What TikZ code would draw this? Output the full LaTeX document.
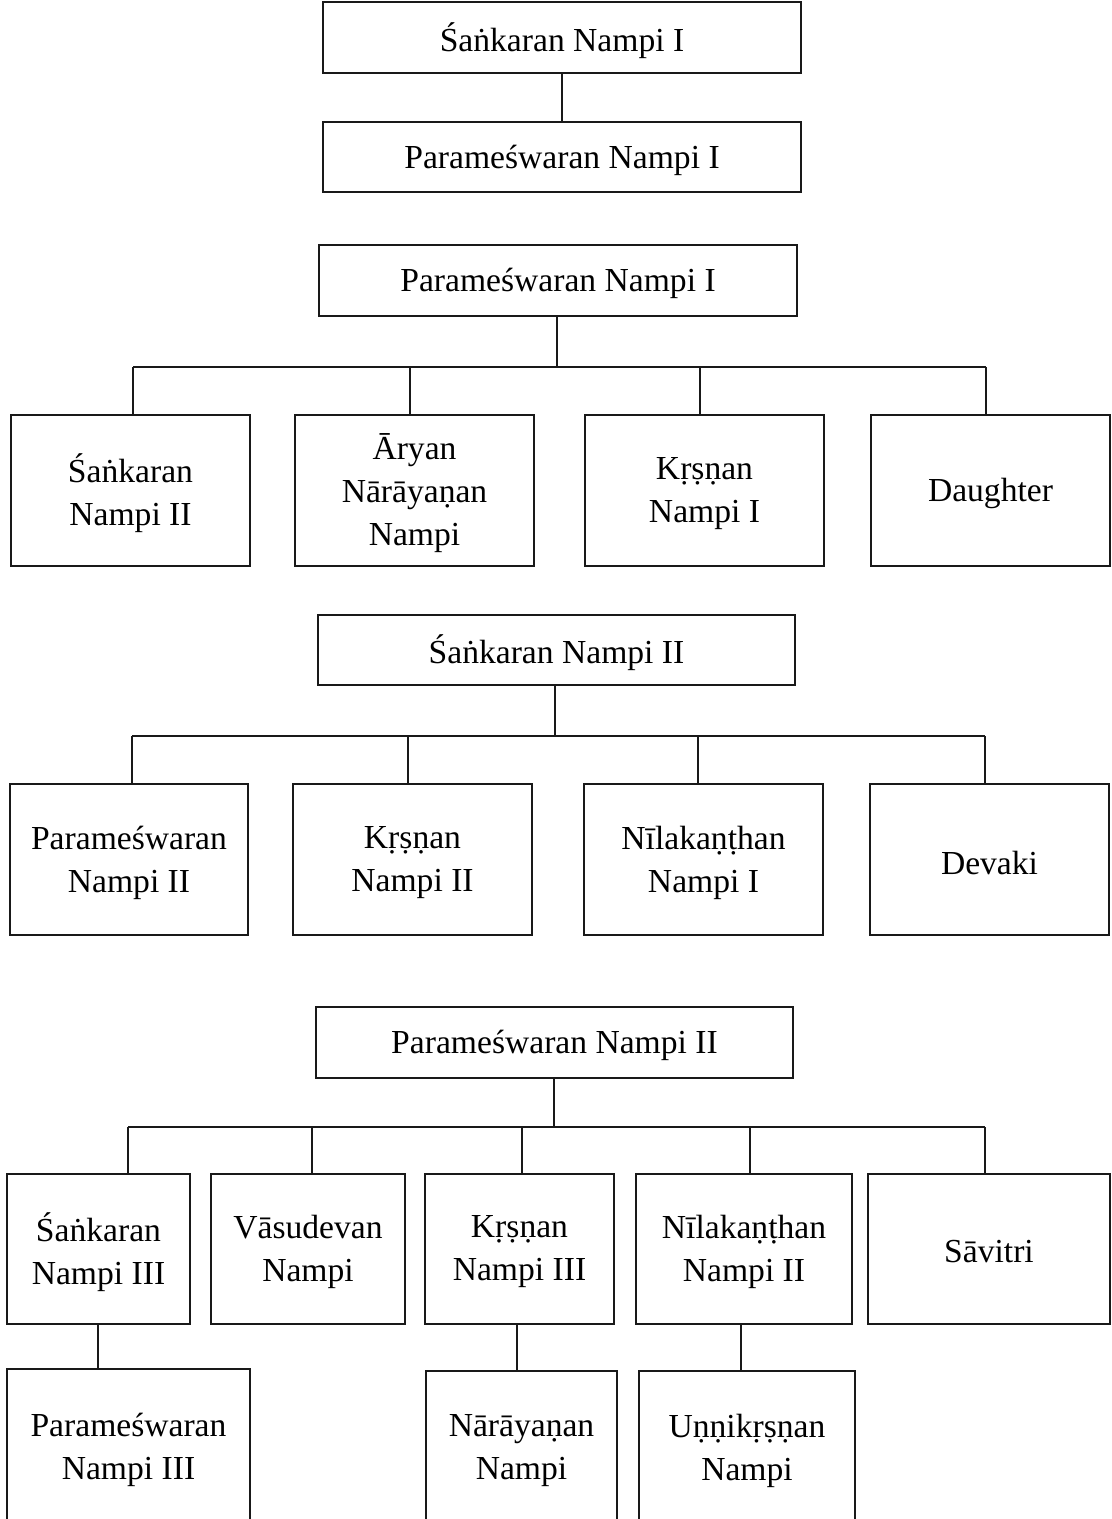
\documentclass[tikz,border=0pt]{standalone}
\usepackage{fontspec}
\setmainfont{Liberation Serif}
\begin{document}
\begin{tikzpicture}[x=0.5pt,y=-0.5pt,
  person/.style={draw=black!90, line width=0.65pt, rectangle, inner sep=0pt,
    label={[name/.expanded=\tikzlastnode-t, who]center:{#1}}},
  who/.style={align=center, inner sep=0pt, yshift=-1.5pt,
    font=\fontsize{16.8pt}{21.5pt}\selectfont},
  wh/.style 2 args={minimum width=#1*0.5pt, minimum height=#2*0.5pt},
  link/.style={draw=black!90, line width=0.65pt}]
\useasboundingbox (0,0) rectangle (1112,1519);
\clip (0,0) rectangle (1112,1519);

% --- Śaṅkaran Nampi I and his son
\node[person={Śaṅkaran Nampi I}, wh={478}{71}] (a1) at (562,37.5) {};
\node[person={Parameśwaran Nampi I}, wh={478}{70}] (a2) at (562,157) {};
\draw[link] (a1.south) -- (a2.north);

% --- children of Parameśwaran Nampi I
\node[person={Parameśwaran Nampi I}, wh={478}{71}] (b0) at (558,280.5) {};
\node[person={Śaṅkaran\\Nampi II}, wh={239}{151}] (b1) at (130.5,490.5) {};
\node[person={Āryan\\Nārāyaṇan\\Nampi}, wh={239}{151}] (b2) at (414.5,490.5) {};
\node[person={Kṛṣṇan\\Nampi I}, wh={239}{151}] (b3) at (704.5,490.5) {};
\node[person={Daughter}, wh={239}{151}] (b4) at (990.5,490.5) {};
\coordinate (bt) at (557,367);
\coordinate (bx1) at (133,367);
\coordinate (bx2) at (410,367);
\coordinate (bx3) at (700,367);
\coordinate (bx4) at (986,367);
\draw[link] (b0.south -| bt) -- (bt);
\draw[link] (bx1) -- (bx4);
\draw[link] (bx1) -- (bx1 |- b1.north);
\draw[link] (bx2) -- (bx2 |- b2.north);
\draw[link] (bx3) -- (bx3 |- b3.north);
\draw[link] (bx4) -- (bx4 |- b4.north);

% --- children of Śaṅkaran Nampi II
\node[person={Śaṅkaran Nampi II}, wh={477}{70}] (c0) at (556.5,650) {};
\node[person={Parameśwaran\\Nampi II}, wh={238}{151}] (c1) at (129,859.5) {};
\node[person={Kṛṣṇan\\Nampi II}, wh={239}{151}] (c2) at (412.5,859.5) {};
\node[person={Nīlakaṇṭhan\\Nampi I}, wh={239}{151}] (c3) at (703.5,859.5) {};
\node[person={Devaki}, wh={239}{151}] (c4) at (989.5,859.5) {};
\coordinate (ct) at (555,736);
\coordinate (cx1) at (132,736);
\coordinate (cx2) at (408,736);
\coordinate (cx3) at (698,736);
\coordinate (cx4) at (985,736);
\draw[link] (c0.south -| ct) -- (ct);
\draw[link] (cx1) -- (cx4);
\draw[link] (cx1) -- (cx1 |- c1.north);
\draw[link] (cx2) -- (cx2 |- c2.north);
\draw[link] (cx3) -- (cx3 |- c3.north);
\draw[link] (cx4) -- (cx4 |- c4.north);

% --- children and grandchildren of Parameśwaran Nampi II
\node[person={Parameśwaran Nampi II}, wh={477}{71}] (d0) at (554.5,1042.5) {};
\node[person={Śaṅkaran\\Nampi III}, wh={183}{150}] (d1) at (98.5,1249) {};
\node[person={Vāsudevan\\Nampi}, wh={194}{150}] (d2) at (308,1249) {};
\node[person={Kṛṣṇan\\Nampi III}, wh={189}{150}] (d3) at (519.5,1249) {};
\node[person={Nīlakaṇṭhan\\Nampi II}, wh={216}{150}] (d4) at (744,1249) {};
\node[person={Sāvitri}, wh={242}{150}] (d5) at (989,1249) {};
\coordinate (dt) at (554,1127);
\coordinate (dx1) at (128,1127);
\coordinate (dx2) at (312,1127);
\coordinate (dx3) at (522,1127);
\coordinate (dx4) at (750,1127);
\coordinate (dx5) at (985,1127);
\draw[link] (d0.south -| dt) -- (dt);
\draw[link] (dx1) -- (dx5);
\draw[link] (dx1) -- (dx1 |- d1.north);
\draw[link] (dx2) -- (dx2 |- d2.north);
\draw[link] (dx3) -- (dx3 |- d3.north);
\draw[link] (dx4) -- (dx4 |- d4.north);
\draw[link] (dx5) -- (dx5 |- d5.north);

\node[person={Parameśwaran\\Nampi III}, wh={243}{156}] (e1) at (128.5,1447) {};
\node[person={Nārāyaṇan\\Nampi}, wh={191}{154}] (e2) at (521.5,1448) {};
\node[person={Uṇṇikṛṣṇan\\Nampi}, wh={216}{154}] (e3) at (747,1448) {};
\coordinate (ex1) at (98,1324);
\coordinate (ex2) at (517,1324);
\coordinate (ex3) at (741,1324);
\draw[link] (ex1 |- d1.south) -- (ex1 |- e1.north);
\draw[link] (ex2 |- d3.south) -- (ex2 |- e2.north);
\draw[link] (ex3 |- d4.south) -- (ex3 |- e3.north);
\end{tikzpicture}
\end{document}
